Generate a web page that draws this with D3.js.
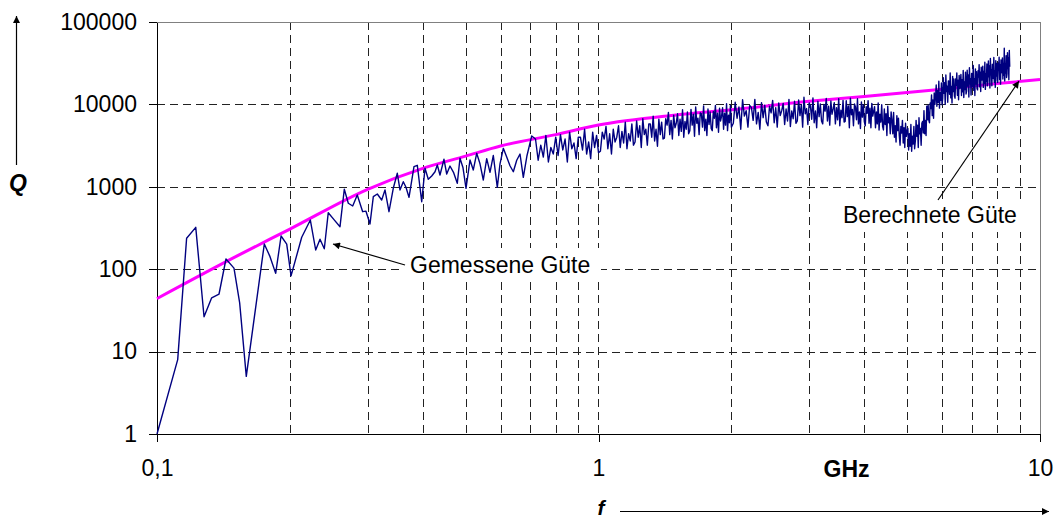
<!DOCTYPE html>
<html>
<head>
<meta charset="utf-8">
<script src="https://cdn.jsdelivr.net/npm/d3@7"></script>
<style>
  html, body { margin: 0; padding: 0; background: #fff; }
  svg { display: block; font-family: "Liberation Sans", Arial, sans-serif; }
</style>
</head>
<body>
<svg id="chart" width="1056" height="520"></svg>
<script>
// ---- Measured quality factor, 0.1–0.71 GHz: individual sweep points ----
const measuredLowFreq = [
  0.1, 0.1114, 0.1167, 0.1224, 0.1278, 0.1330, 0.1382, 0.1433, 0.1494, 0.1539,
  0.1593, 0.1750, 0.1803, 0.1857, 0.1910, 0.1967, 0.2012, 0.2127, 0.2225, 0.2288,
  0.2340, 0.2393, 0.2443, 0.2517, 0.2597, 0.2656, 0.2712, 0.2775, 0.2842, 0.2923,
  0.2974, 0.3037, 0.3090, 0.3155, 0.3228, 0.3284, 0.3353, 0.3429, 0.3502, 0.3551,
  0.3613, 0.3664, 0.3722, 0.3820, 0.3887, 0.3977, 0.4046, 0.4116, 0.4190, 0.4263,
  0.4314, 0.4375, 0.4467, 0.4531, 0.4609, 0.4694, 0.4788, 0.4856, 0.4933, 0.5011,
  0.5116, 0.5205, 0.5298, 0.5390, 0.5484, 0.5582, 0.5679, 0.5778, 0.5899, 0.5983,
  0.6087, 0.6196, 0.6303, 0.6413, 0.6528, 0.6641, 0.6756, 0.6888, 0.7059
];
const measuredLowQ = [
  1, 8, 237, 322, 26.5, 45, 50, 133, 103, 39,
  5, 202, 142, 89, 253, 202, 83, 244, 395, 171,
  231, 177, 485, 400, 328, 933, 631, 585, 795, 499,
  506, 354, 759, 818, 692, 916, 499, 959, 1459, 916,
  1153, 986, 745, 1754, 1824, 659, 1676, 1233, 1352, 1524,
  1841, 1390, 2158, 1430, 1787, 1500, 1102, 2218, 1700, 959,
  2113, 1600, 2548, 1900, 1209, 2200, 1500, 2400, 986, 1900,
  2930, 2300, 1800, 1524, 2100, 2500, 1303, 2400, 4140
];

// ---- Measured quality factor, 0.72–2.00 GHz sweep, 10 MHz steps ----
const sweepMidStart = 0.72, sweepMidStep = 0.01;
const measuredMidQ = [
  3800, 2100, 3200, 2300, 4200, 2000, 3000, 2500, 4000,
  2400, 4300, 2800, 3800, 2000, 4600, 2900, 3400, 2200, 4000,
  4000, 2800, 5000, 2500, 3500, 2200, 4600, 3000, 4200, 2600,
  2700, 4600, 3800, 5400, 2900, 4400, 2500, 5000, 3500, 4000,
  5500, 3000, 4700, 3400, 6100, 2900, 4400, 3600, 5800, 3200,
  3500, 6300, 4000, 5500, 3000, 6700, 4300, 5000, 3200, 5800,
  5800, 4000, 7200, 3600, 5000, 3100, 6600, 4300, 6100, 3800,
  3900, 6700, 5600, 8000, 4300, 6400, 3800, 7400, 5200, 5900,
  7700, 4200, 6600, 4700, 8600, 4000, 6200, 5000, 8100, 4400,
  4800, 8700, 5600, 7600, 4100, 9300, 5900, 6800, 4300, 7900,
  7700, 5300, 9600, 4800, 6600, 4200, 8800, 5700, 8100, 5100,
  4800, 8200, 6800, 9700, 5200, 7800, 4600, 9000, 6300, 7200,
  9100, 5000, 7800, 5600, 10200, 4800, 7400, 6000, 9700, 5300
];

// ---- Measured quality factor, 2.02–8.54 GHz sweep, 20 MHz steps ----
const sweepHighStart = 2.02, sweepHighStep = 0.02;
const measuredHighQ = [
  5900, 10600, 6800, 9300, 5000, 11400, 7200, 8400, 5300, 9700,
  9200, 6400, 11500, 5800, 8000, 5000, 10500, 6900, 9800, 6100,
  5500, 9500, 7900, 11200, 6000, 9100, 5300, 10400, 7300, 8400,
  10300, 5700, 8800, 6300, 11500, 5400, 8300, 6700, 10900, 5900,
  6300, 11300, 7300, 9900, 5300, 12200, 7700, 8900, 5700, 10400,
  9600, 6600, 12000, 6000, 8300, 5200, 10900, 7100, 10100, 6300,
  5800, 10000, 8300, 11800, 6300, 9500, 5600, 11000, 7600, 8800,
  10500, 5800, 9100, 6500, 11700, 5500, 8500, 6900, 11200, 6100,
  6200, 11100, 7100, 9600, 5200, 11900, 7500, 8700, 5500, 10100,
  9300, 6500, 11700, 5800, 8100, 5100, 10700, 7000, 9900, 6200,
  5500, 9400, 7800, 11100, 5900, 9000, 5200, 10300, 7200, 8300,
  9400, 5200, 8100, 5800, 10400, 4900, 7600, 6100, 9900, 5400,
  4900, 8800, 5700, 7700, 4200, 9500, 6000, 6900, 4400, 8100,
  6400, 4400, 8000, 4000, 5500, 3500, 7300, 4800, 6800, 4200,
  3200, 5400, 4500, 6400, 3400, 5200, 3000, 5900, 4100, 4800,
  5100, 2800, 4400, 3100, 5700, 2700, 4100, 3300, 5400, 2900,
  3600, 6400, 4100, 5600, 3000, 6900, 4400, 5100, 3200, 5900,
  6200, 4500, 8400, 4400, 6400, 4200, 9500, 6500, 9800, 6400,
  6000, 10400, 8900, 13000, 7300, 11300, 6800, 13800, 10000, 12200,
  17200, 9500, 14800, 10600, 19100, 9000, 13900, 11200, 18200, 9900,
  11800, 21100, 13600, 18400, 10000, 22700, 14300, 16600, 10600, 19300,
  19100, 13300, 24000, 12000, 16500, 10400, 21900, 14300, 20300, 12600,
  11900, 20400, 17000, 24100, 12900, 19600, 11400, 22400, 15600, 18000,
  23100, 12800, 19900, 14200, 25800, 12100, 18700, 15100, 24600, 13400,
  14500, 26000, 16700, 22700, 12300, 27900, 17700, 20500, 13000, 23800,
  23600, 16400, 29600, 14800, 20400, 12800, 27000, 17600, 25000, 15600,
  15000, 25700, 21400, 30400, 16300, 24600, 14300, 28200, 19700, 22700,
  29100, 16100, 25100, 17900, 32500, 15200, 23500, 19000, 30900, 16800,
  18700, 33600, 21600, 29300, 15800, 36000, 22800, 26400, 16800, 30700,
  29600, 20600, 37100, 18600, 25600, 16100, 33900, 22100, 31400, 19600,
  18400, 31600, 26300, 37300, 20000, 30200, 17600, 34700, 24200, 27900,
  36700, 20300, 31600, 22600, 48000, 19200, 29600, 24000, 38900, 21200,
  23600, 42300, 27200, 36800, 19900, 45300, 28700
];

// ---- Calculated quality factor ----
const calcFreq = [0.1, 0.15, 0.2, 0.3, 0.4, 0.5, 0.6, 0.8, 1, 1.5, 2, 3, 4, 6, 8, 10];
const calcQ    = [44, 140, 307, 933, 1676, 2360, 3126, 4300, 5623, 7450, 8600, 10900, 12500, 15300, 17900, 20000];

// ---- Axis ticks ----
const yTickValues = [1, 10, 100, 1000, 10000, 100000];
const yTickLabels = ["1", "10", "100", "1000", "10000", "100000"];
const xTickValues = [0.1, 1, 10];
const xTickLabels = ["0,1", "1", "10"];
const xGridValues = [0.2, 0.3, 0.4, 0.5, 0.6, 0.7, 0.8, 0.9, 1, 2, 3, 4, 5, 6, 7, 8, 9];
const yGridValues = [10, 100, 1000, 10000];

// ---- Assemble series ----
const measured = [];
measuredLowFreq.forEach((f, i) => measured.push({ f, q: measuredLowQ[i] }));
measuredMidQ.forEach((q, i) => measured.push({ f: +(sweepMidStart + i * sweepMidStep).toFixed(3), q }));
measuredHighQ.forEach((q, i) => measured.push({ f: +(sweepHighStart + i * sweepHighStep).toFixed(3), q }));
const calculated = calcFreq.map((f, i) => ({ f, q: calcQ[i] }));

// ---- Layout ----
const plot = { left: 157, right: 1040, top: 22, bottom: 434 };
const fontSize = 23;

const svg = d3.select("#chart");
const x = d3.scaleLog().domain([0.1, 10]).range([plot.left, plot.right]);
const y = d3.scaleLog().domain([1, 100000]).range([plot.bottom, plot.top]);
const px = v => Math.round(v) + 0.5;

const defs = svg.append("defs");
defs.append("marker")
  .attr("id", "arrowHead")
  .attr("viewBox", "0 0 10 10")
  .attr("refX", 10).attr("refY", 5)
  .attr("markerWidth", 9).attr("markerHeight", 7)
  .attr("markerUnits", "userSpaceOnUse")
  .attr("orient", "auto")
  .append("path").attr("d", "M0,0L10,5L0,10z").attr("fill", "#000");

// ---- Grid ----
const grid = svg.append("g").attr("stroke", "#222").attr("stroke-width", 1)
  .attr("stroke-dasharray", "8,5").attr("shape-rendering", "crispEdges");
grid.selectAll("line.v").data(xGridValues).join("line").attr("class", "v")
  .attr("x1", d => px(x(d))).attr("x2", d => px(x(d)))
  .attr("y1", plot.top).attr("y2", plot.bottom);
grid.selectAll("line.h").data(yGridValues).join("line").attr("class", "h")
  .attr("x1", plot.left).attr("x2", plot.right)
  .attr("y1", d => px(y(d))).attr("y2", d => px(y(d)));

// ---- Plot frame (top and right) ----
svg.append("path")
  .attr("d", `M${plot.left},${px(plot.top)}H${px(plot.right)}V${plot.bottom}`)
  .attr("fill", "none").attr("stroke", "#808080").attr("stroke-width", 1)
  .attr("shape-rendering", "crispEdges");

// ---- Axes ----
const yAxis = d3.axisLeft(y).tickValues(yTickValues)
  .tickFormat((d, i) => yTickLabels[i]).tickSize(8).tickSizeOuter(0).tickPadding(12);
const gy = svg.append("g").attr("transform", `translate(${plot.left},0)`).call(yAxis);

const xAxis = d3.axisBottom(x).tickValues(xTickValues)
  .tickFormat((d, i) => xTickLabels[i]).tickSize(8).tickSizeOuter(0).tickPadding(18);
const gx = svg.append("g").attr("transform", `translate(0,${plot.bottom})`).call(xAxis);

[gx, gy].forEach(g => {
  g.attr("font-family", null).attr("font-size", null);
  g.selectAll("path, line").attr("stroke", "#000").attr("shape-rendering", "crispEdges");
  g.selectAll("text").attr("fill", "#000").style("font-size", fontSize + "px");
});

// ---- Series ----
svg.append("path").datum(calculated)
  .attr("d", d3.line().x(d => x(d.f)).y(d => y(d.q)).curve(d3.curveMonotoneX))
  .attr("fill", "none").attr("stroke", "#ff00ff").attr("stroke-width", 3);

svg.append("path").datum(measured)
  .attr("d", d3.line().x(d => x(d.f)).y(d => y(d.q)))
  .attr("fill", "none").attr("stroke", "#000080").attr("stroke-width", 1.4)
  .attr("stroke-linejoin", "round");

// ---- Annotations ----
function callout(label, box, textX, textY, from, to) {
  svg.append("rect").attr("x", box[0]).attr("y", box[1])
    .attr("width", box[2]).attr("height", box[3]).attr("fill", "#fff");
  svg.append("text").attr("x", textX).attr("y", textY)
    .style("font-size", fontSize + "px").attr("fill", "#000").text(label);
  svg.append("line").attr("x1", from[0]).attr("y1", from[1])
    .attr("x2", to[0]).attr("y2", to[1])
    .attr("stroke", "#000").attr("stroke-width", 1.2)
    .attr("marker-end", "url(#arrowHead)");
}
callout("Gemessene Güte", [403, 248, 198, 34], 410, 273, [405, 265], [333, 244]);
callout("Berechnete Güte", [838, 199, 190, 33], 843, 223, [938, 200], [1019, 81]);

// ---- Axis titles ----
svg.append("text").attr("x", 18).attr("y", 191).attr("text-anchor", "middle")
  .style("font-size", fontSize + "px").style("font-weight", "bold").style("font-style", "italic")
  .text("Q");
svg.append("line").attr("x1", 16.5).attr("y1", 165).attr("x2", 16.5).attr("y2", 16)
  .attr("stroke", "#000").attr("stroke-width", 1.2).attr("marker-end", "url(#arrowHead)");

svg.append("text").attr("x", 846.5).attr("y", 477).attr("text-anchor", "middle")
  .style("font-size", fontSize + "px").style("font-weight", "bold")
  .text("GHz");

svg.append("text").attr("x", 601).attr("y", 515).attr("text-anchor", "middle")
  .style("font-size", "21px").style("font-weight", "bold").style("font-style", "italic")
  .text("f");
svg.append("line").attr("x1", 620).attr("y1", 511.5).attr("x2", 1049).attr("y2", 511.5)
  .attr("stroke", "#000").attr("stroke-width", 1.2).attr("marker-end", "url(#arrowHead)");
</script>
</body>
</html>
